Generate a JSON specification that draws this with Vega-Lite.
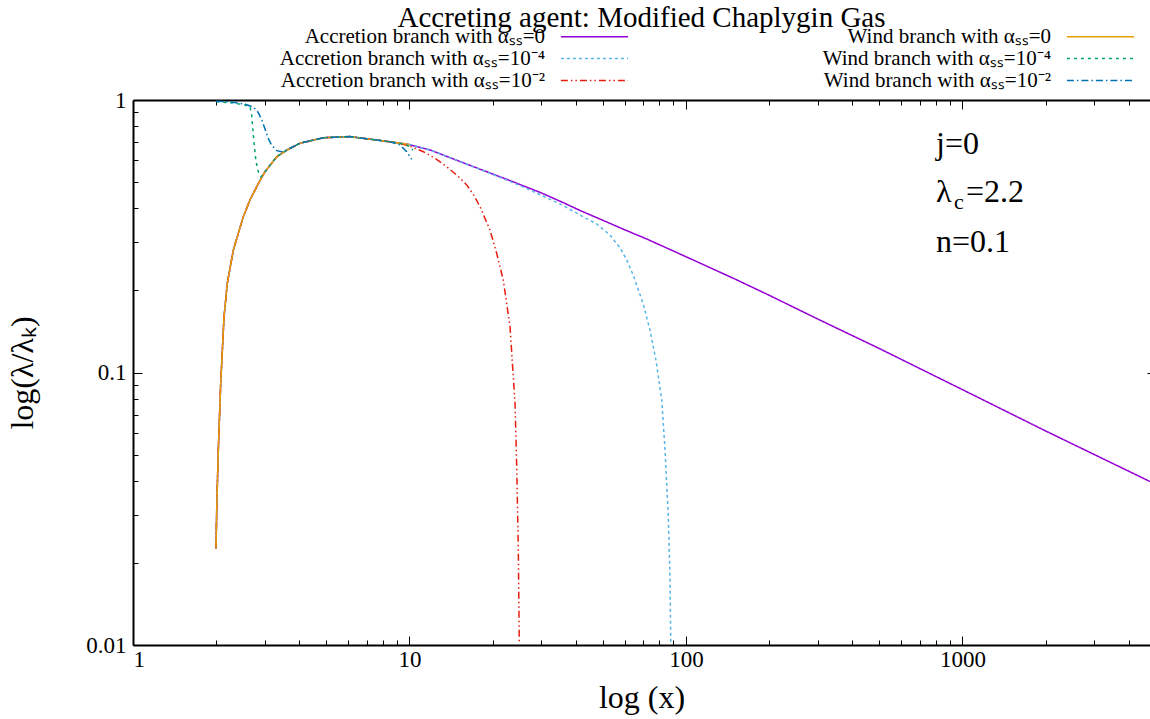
{
  "$schema": "https://vega.github.io/schema/vega-lite/v6.json",
  "width": 1017,
  "height": 545,
  "autosize": {"type": "none"},
  "padding": {"left": 133, "top": 100, "right": 0, "bottom": 74},
  "title": {"text": "Accreting agent: Modified Chaplygin Gas", "fontSize": 29, "font": "Liberation Serif", "fontWeight": "normal", "color": "#000", "anchor": "middle", "frame": "group", "offset": -7},
  "datasets": {
    "curves": [
      {"s":"A0","x":1.996,"y":0.0226},{"s":"A0","x":2.01,"y":0.033},{"s":"A0","x":2.035,"y":0.052},{"s":"A0","x":2.076,"y":0.0913},{"s":"A0","x":2.134,"y":0.16},{"s":"A0","x":2.193,"y":0.2125},{"s":"A0","x":2.306,"y":0.2815},{"s":"A0","x":2.506,"y":0.373},{"s":"A0","x":2.649,"y":0.43},{"s":"A0","x":2.862,"y":0.501},{"s":"A0","x":3.0,"y":0.545},{"s":"A0","x":3.31,"y":0.619},{"s":"A0","x":3.6,"y":0.655},{"s":"A0","x":4.02,"y":0.694},{"s":"A0","x":4.88,"y":0.727},{"s":"A0","x":6.09,"y":0.734},{"s":"A0","x":7.61,"y":0.713},{"s":"A0","x":9.0,"y":0.697},{"s":"A0","x":10.0,"y":0.686},{"s":"A0","x":12,"y":0.653},{"s":"A0","x":15,"y":0.598},{"s":"A0","x":20,"y":0.535},{"s":"A0","x":23.7,"y":0.501},{"s":"A0","x":30,"y":0.456},{"s":"A0","x":36,"y":0.42},{"s":"A0","x":41.4,"y":0.393},{"s":"A0","x":50,"y":0.362},{"s":"A0","x":60,"y":0.334},{"s":"A0","x":72.1,"y":0.309},{"s":"A0","x":100,"y":0.266},{"s":"A0","x":150,"y":0.2205},{"s":"A0","x":200,"y":0.192},{"s":"A0","x":300,"y":0.157},{"s":"A0","x":500,"y":0.1225},{"s":"A0","x":1000,"y":0.0865},{"s":"A0","x":2000,"y":0.061},{"s":"A0","x":4766,"y":0.0398},
      {"s":"A4","x":1.996,"y":0.0226},{"s":"A4","x":2.01,"y":0.033},{"s":"A4","x":2.035,"y":0.052},{"s":"A4","x":2.076,"y":0.0913},{"s":"A4","x":2.134,"y":0.16},{"s":"A4","x":2.193,"y":0.2125},{"s":"A4","x":2.306,"y":0.2815},{"s":"A4","x":2.506,"y":0.373},{"s":"A4","x":2.649,"y":0.43},{"s":"A4","x":2.862,"y":0.501},{"s":"A4","x":3.0,"y":0.545},{"s":"A4","x":3.31,"y":0.619},{"s":"A4","x":3.6,"y":0.655},{"s":"A4","x":4.02,"y":0.694},{"s":"A4","x":4.88,"y":0.727},{"s":"A4","x":6.09,"y":0.734},{"s":"A4","x":7.61,"y":0.713},{"s":"A4","x":9.0,"y":0.697},{"s":"A4","x":10.0,"y":0.686},{"s":"A4","x":12,"y":0.653},{"s":"A4","x":15,"y":0.598},{"s":"A4","x":20,"y":0.534},{"s":"A4","x":25,"y":0.486},{"s":"A4","x":30,"y":0.447},{"s":"A4","x":36,"y":0.41},{"s":"A4","x":42,"y":0.375},{"s":"A4","x":47.5,"y":0.351},{"s":"A4","x":53,"y":0.32},{"s":"A4","x":57.7,"y":0.287},{"s":"A4","x":61,"y":0.259},{"s":"A4","x":64.5,"y":0.227},{"s":"A4","x":70.1,"y":0.178},{"s":"A4","x":74.1,"y":0.143},{"s":"A4","x":78,"y":0.11},{"s":"A4","x":81.7,"y":0.0793},{"s":"A4","x":84,"y":0.052},{"s":"A4","x":86.3,"y":0.0296},{"s":"A4","x":87.5,"y":0.018},{"s":"A4","x":88.1,"y":0.0102},
      {"s":"A2","x":1.996,"y":0.0226},{"s":"A2","x":2.01,"y":0.033},{"s":"A2","x":2.035,"y":0.052},{"s":"A2","x":2.076,"y":0.0913},{"s":"A2","x":2.134,"y":0.16},{"s":"A2","x":2.193,"y":0.2125},{"s":"A2","x":2.306,"y":0.2815},{"s":"A2","x":2.506,"y":0.373},{"s":"A2","x":2.649,"y":0.43},{"s":"A2","x":2.862,"y":0.501},{"s":"A2","x":3.0,"y":0.545},{"s":"A2","x":3.31,"y":0.619},{"s":"A2","x":3.6,"y":0.655},{"s":"A2","x":4.02,"y":0.694},{"s":"A2","x":4.88,"y":0.727},{"s":"A2","x":6.09,"y":0.734},{"s":"A2","x":7.61,"y":0.713},{"s":"A2","x":9.0,"y":0.697},{"s":"A2","x":10,"y":0.678},{"s":"A2","x":11.22,"y":0.646},{"s":"A2","x":12.4,"y":0.61},{"s":"A2","x":13.63,"y":0.569},{"s":"A2","x":15,"y":0.525},{"s":"A2","x":16.1,"y":0.488},{"s":"A2","x":17.1,"y":0.447},{"s":"A2","x":17.99,"y":0.406},{"s":"A2","x":19.55,"y":0.333},{"s":"A2","x":20.67,"y":0.2738},{"s":"A2","x":21.84,"y":0.2185},{"s":"A2","x":23.1,"y":0.147},{"s":"A2","x":24.08,"y":0.077},{"s":"A2","x":24.42,"y":0.0451},{"s":"A2","x":24.75,"y":0.0223},{"s":"A2","x":24.95,"y":0.0102},
      {"s":"W0","x":1.996,"y":0.0226},{"s":"W0","x":2.01,"y":0.033},{"s":"W0","x":2.035,"y":0.052},{"s":"W0","x":2.076,"y":0.0913},{"s":"W0","x":2.134,"y":0.16},{"s":"W0","x":2.193,"y":0.2125},{"s":"W0","x":2.306,"y":0.2815},{"s":"W0","x":2.506,"y":0.373},{"s":"W0","x":2.649,"y":0.43},{"s":"W0","x":2.862,"y":0.501},{"s":"W0","x":3.0,"y":0.545},{"s":"W0","x":3.31,"y":0.619},{"s":"W0","x":3.6,"y":0.655},{"s":"W0","x":4.02,"y":0.694},{"s":"W0","x":4.88,"y":0.727},{"s":"W0","x":6.09,"y":0.734},{"s":"W0","x":7.61,"y":0.713},{"s":"W0","x":9.0,"y":0.697},{"s":"W0","x":10.0,"y":0.686},
      {"s":"W4","x":2.0,"y":0.985},{"s":"W4","x":2.3,"y":0.975},{"s":"W4","x":2.5,"y":0.962},{"s":"W4","x":2.65,"y":0.945},{"s":"W4","x":2.687,"y":0.881},{"s":"W4","x":2.723,"y":0.744},{"s":"W4","x":2.755,"y":0.66},{"s":"W4","x":2.786,"y":0.594},{"s":"W4","x":2.84,"y":0.545},{"s":"W4","x":2.9,"y":0.522},{"s":"W4","x":3.0,"y":0.545},{"s":"W4","x":3.31,"y":0.619},{"s":"W4","x":3.6,"y":0.655},{"s":"W4","x":4.02,"y":0.694},{"s":"W4","x":4.88,"y":0.727},{"s":"W4","x":6.09,"y":0.734},{"s":"W4","x":7.61,"y":0.713},{"s":"W4","x":9.0,"y":0.697},{"s":"W4","x":9.77,"y":0.684},{"s":"W4","x":10.3,"y":0.655},
      {"s":"W2","x":2.0,"y":0.99},{"s":"W2","x":2.3,"y":0.982},{"s":"W2","x":2.55,"y":0.965},{"s":"W2","x":2.7,"y":0.945},{"s":"W2","x":2.8,"y":0.919},{"s":"W2","x":2.86,"y":0.885},{"s":"W2","x":2.92,"y":0.845},{"s":"W2","x":2.98,"y":0.8},{"s":"W2","x":3.04,"y":0.755},{"s":"W2","x":3.1,"y":0.715},{"s":"W2","x":3.17,"y":0.684},{"s":"W2","x":3.31,"y":0.652},{"s":"W2","x":3.45,"y":0.646},{"s":"W2","x":3.6,"y":0.656},{"s":"W2","x":4.02,"y":0.694},{"s":"W2","x":4.88,"y":0.727},{"s":"W2","x":6.09,"y":0.734},{"s":"W2","x":7.61,"y":0.713},{"s":"W2","x":8.5,"y":0.703},{"s":"W2","x":9.24,"y":0.684},{"s":"W2","x":9.77,"y":0.646},{"s":"W2","x":10.18,"y":0.606}
    ],
    "notes": [
      {"t":"j=0","k":"main","x":802,"y":0.634},
      {"t":"n=0.1","k":"main","x":802,"y":0.277},
      {"t":"λ","k":"lam","x":802,"y":0.422},
      {"t":"c","k":"sub","x":802,"y":0.422},
      {"t":"=2.2","k":"rest","x":802,"y":0.422}
    ]
  },
  "layer": [
    {
      "data": {"name": "curves"},
      "mark": {"type": "line", "strokeWidth": 1.5, "clip": true},
      "encoding": {
        "x": {"field": "x", "type": "quantitative",
          "scale": {"type": "log", "domain": [1, 4766], "nice": false},
          "axis": {"orient": "bottom", "values": [1, 10, 100, 1000], "format": "~g", "tickSize": -9, "labelPadding": 12, "labelFontSize": 23, "title": "log (x)", "titleFontSize": 32, "titlePadding": 11, "domain": true, "domainWidth": 2}},
        "y": {"field": "y", "type": "quantitative",
          "scale": {"type": "log", "domain": [0.01, 1], "nice": false},
          "axis": {"orient": "left", "values": [0.01, 0.1, 1], "format": "~g", "tickSize": -9, "labelPadding": 16, "labelFontSize": 23, "title": "log(λ/λₖ)", "titleFontSize": 32, "titlePadding": 46, "domain": true, "domainWidth": 2}},
        "color": {"field": "s", "type": "nominal",
          "scale": {"domain": ["A0", "A4", "A2", "W0", "W4", "W2"], "range": ["#9400d3", "#56b4e9", "#e51e10", "#e69f00", "#009e73", "#0072b2"]},
          "legend": {"title": null, "symbolType": "M-4.2,0L4.2,0", "symbolSize": 256, "symbolOffset": 22, "symbolStrokeWidth": 1.5, "labelOffset": -60, "labelAlign": "right",
            "labelExpr": "datum.label == 'A0' ? 'Accretion branch with αₛₛ=0' : datum.label == 'W0' ? 'Wind branch with αₛₛ=0' : datum.label == 'A4' ? 'Accretion branch with αₛₛ=10⁻⁴' : datum.label == 'W4' ? 'Wind branch with αₛₛ=10⁻⁴' : datum.label == 'A2' ? 'Accretion branch with αₛₛ=10⁻²' : 'Wind branch with αₛₛ=10⁻²'"}},
        "strokeDash": {"field": "s", "type": "nominal",
          "scale": {"domain": ["A0", "A4", "A2", "W0", "W4", "W2"], "range": [[1, 0], [3, 3], [7, 3, 1.5, 3, 1.5, 3], [1, 0], [3, 4], [7, 3, 1.5, 3]]},
          "legend": {"title": null, "symbolType": "M-4.2,0L4.2,0", "symbolSize": 256, "symbolOffset": 22, "symbolStrokeWidth": 1.5, "labelOffset": -60, "labelAlign": "right",
            "labelExpr": "datum.label == 'A0' ? 'Accretion branch with αₛₛ=0' : datum.label == 'W0' ? 'Wind branch with αₛₛ=0' : datum.label == 'A4' ? 'Accretion branch with αₛₛ=10⁻⁴' : datum.label == 'W4' ? 'Wind branch with αₛₛ=10⁻⁴' : datum.label == 'A2' ? 'Accretion branch with αₛₛ=10⁻²' : 'Wind branch with αₛₛ=10⁻²'"}}
      }
    },
    {
      "data": {"name": "notes"},
      "transform": [{"filter": "datum.k == 'main'"}],
      "mark": {"type": "text", "align": "left", "baseline": "alphabetic", "fontSize": 32, "font": "Liberation Serif", "color": "#000"},
      "encoding": {
        "x": {"field": "x", "type": "quantitative", "axis": {"orient": "bottom", "values": [2,3,4,5,6,7,8,9,20,30,40,50,60,70,80,90,200,300,400,500,600,700,800,900,2000,3000,4000], "tickSize": -5, "labels": false, "title": null, "domain": false}},
        "y": {"field": "y", "type": "quantitative", "axis": {"orient": "left", "values": [0.02,0.03,0.04,0.05,0.06,0.07,0.08,0.09,0.2,0.3,0.4,0.5,0.6,0.7,0.8,0.9], "tickSize": -5, "labels": false, "title": null, "domain": false}},
        "text": {"field": "t"}
      }
    },
    {
      "data": {"name": "notes"},
      "transform": [{"filter": "datum.k == 'lam'"}],
      "mark": {"type": "text", "align": "left", "baseline": "alphabetic", "fontSize": 32, "font": "Liberation Serif", "color": "#000"},
      "encoding": {
        "x": {"field": "x", "type": "quantitative", "axis": {"orient": "top", "values": [1, 10, 100, 1000], "tickSize": -9, "labels": false, "title": null, "domain": true, "domainWidth": 2}},
        "y": {"field": "y", "type": "quantitative", "axis": {"orient": "right", "values": [0.01, 0.1, 1], "tickSize": -9, "labels": false, "title": null, "domain": false, "offset": 6}},
        "text": {"field": "t"}
      }
    },
    {
      "data": {"name": "notes"},
      "transform": [{"filter": "datum.k == 'sub'"}],
      "mark": {"type": "text", "align": "left", "baseline": "alphabetic", "fontSize": 22, "dx": 18, "dy": 7, "font": "Liberation Serif", "color": "#000"},
      "encoding": {
        "x": {"field": "x", "type": "quantitative", "axis": {"orient": "top", "values": [2,3,4,5,6,7,8,9,20,30,40,50,60,70,80,90,200,300,400,500,600,700,800,900,2000,3000,4000], "tickSize": -5, "labels": false, "title": null, "domain": false}},
        "y": {"field": "y", "type": "quantitative", "axis": {"orient": "right", "values": [0.02,0.03,0.04,0.05,0.06,0.07,0.08,0.09,0.2,0.3,0.4,0.5,0.6,0.7,0.8,0.9], "tickSize": -5, "labels": false, "title": null, "domain": false, "offset": 6}},
        "text": {"field": "t"}
      }
    },
    {
      "data": {"name": "notes"},
      "transform": [{"filter": "datum.k == 'rest'"}],
      "mark": {"type": "text", "align": "left", "baseline": "alphabetic", "fontSize": 32, "dx": 30, "font": "Liberation Serif", "color": "#000"},
      "encoding": {
        "x": {"field": "x", "type": "quantitative", "axis": null},
        "y": {"field": "y", "type": "quantitative", "axis": null},
        "text": {"field": "t"}
      }
    }
  ],
  "resolve": {"axis": {"x": "independent", "y": "independent"}},
  "config": {
    "font": "Liberation Serif",
    "view": {"stroke": null},
    "axis": {"grid": false, "domainColor": "#000", "tickColor": "#000", "tickWidth": 1, "labelColor": "#000", "titleColor": "#000", "labelFont": "Liberation Serif", "titleFont": "Liberation Serif", "titleFontWeight": "normal"},
    "legend": {
      "orient": "none", "legendX": 429, "legendY": -74, "columns": 2,
      "symbolSize": 256, "symbolOffset": 22, "symbolStrokeWidth": 1.5,
      "labelOffset": -60, "labelAlign": "right",
      "labelFont": "Liberation Serif", "labelFontSize": 21, "labelColor": "#000",
      "labelLimit": 0,
      "rowPadding": 0, "columnPadding": 190, "padding": 0
    }
  }
}
